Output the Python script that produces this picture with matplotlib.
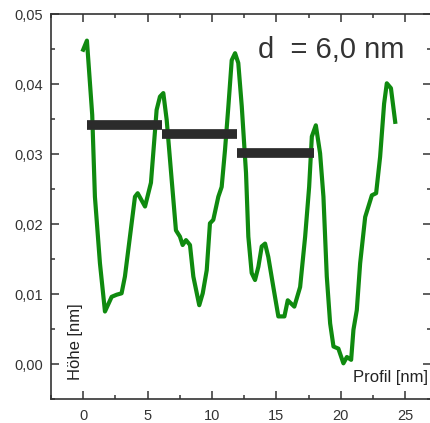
import matplotlib
matplotlib.use("Agg")
import matplotlib.pyplot as plt
from matplotlib.ticker import MultipleLocator, FuncFormatter

plt.rcParams['font.family'] = ['Liberation Sans', 'DejaVu Sans']

# Hoehenprofil (nm)
profil_x = [0.0, 0.29, 0.70, 0.91, 1.30, 1.69, 2.21, 2.60, 2.98, 3.24, 3.63, 4.02,
            4.23, 4.80, 5.26, 5.52, 5.70, 5.96, 6.22, 6.48, 6.87, 7.20, 7.51, 7.72,
            7.98, 8.29, 8.55, 9.01, 9.28, 9.59, 9.84, 10.10, 10.49, 10.75, 11.01,
            11.27, 11.53, 11.79, 12.04, 12.31, 12.64, 12.82, 13.08, 13.34, 13.60,
            13.86, 14.12, 14.37, 14.76, 15.15, 15.62, 15.88, 16.39, 16.84, 17.23,
            17.54, 17.75, 18.06, 18.39, 18.65, 18.91, 19.17, 19.43, 19.81, 20.20,
            20.47, 20.80, 20.98, 21.24, 21.50, 21.89, 22.41, 22.74, 23.05, 23.36,
            23.57, 23.89, 24.22]
hoehe = [0.0449, 0.0462, 0.0356, 0.0239, 0.0144, 0.0075, 0.0096, 0.0099, 0.0101,
         0.0125, 0.0182, 0.0239, 0.0244, 0.0225, 0.0259, 0.0320, 0.0363, 0.0382,
         0.0387, 0.0349, 0.0263, 0.0191, 0.0182, 0.0170, 0.0177, 0.0170, 0.0125,
         0.0084, 0.0101, 0.0134, 0.0201, 0.0206, 0.0239, 0.0253, 0.0306, 0.0368,
         0.0434, 0.0444, 0.0430, 0.0368, 0.0273, 0.0182, 0.0130, 0.0120, 0.0139,
         0.0168, 0.0172, 0.0153, 0.0110, 0.0068, 0.0068, 0.0091, 0.0082, 0.0110,
         0.0182, 0.0253, 0.0325, 0.0341, 0.0301, 0.0239, 0.0125, 0.0058, 0.0025,
         0.0022, 0.0001, 0.0010, 0.0006, 0.0049, 0.0077, 0.0144, 0.0210, 0.0241,
         0.0244, 0.0296, 0.0372, 0.0401, 0.0394, 0.0346]

# Periodenbalken
balken_start = [0.26, 6.14, 11.94]
balken_ende = [6.14, 11.94, 17.95]
balken_hoehe = [0.0342, 0.0328, 0.0302]

fig = plt.figure(figsize=(4.31, 4.23), dpi=100)
ax = fig.add_axes([0.1183, 0.0567, 0.8817, 0.9102])

ax.plot(profil_x, hoehe, color='#0f8a0f', lw=3, solid_joinstyle='round', zorder=2)
for x0, x1, y in zip(balken_start, balken_ende, balken_hoehe):
    ax.plot([x0, x1], [y, y], color='#2b2b2b', lw=7, solid_capstyle='butt', zorder=3)

ax.set_xlim(-2.5, 27)
ax.set_ylim(-0.005, 0.05)
ax.xaxis.set_major_locator(MultipleLocator(5))
ax.xaxis.set_minor_locator(MultipleLocator(2.5))
ax.yaxis.set_major_locator(MultipleLocator(0.01))
ax.yaxis.set_minor_locator(MultipleLocator(0.005))
ax.yaxis.set_major_formatter(FuncFormatter(lambda v, p: f"{v:.2f}".replace('.', ',')))

ax.tick_params(which='both', direction='in', top=True, right=True, colors='#333333',
               labelcolor='#333333', labelsize=10.5, width=1.1)
ax.tick_params(which='major', length=5.5)
ax.tick_params(which='minor', length=3)
ax.tick_params(axis='x', which='major', pad=7)
ax.tick_params(axis='y', which='major', pad=5.5)
for s in ax.spines.values():
    s.set_color('#333333')
    s.set_linewidth(1.2)

ax.text(0.065, 0.15, 'Höhe [nm]', rotation=90, transform=ax.transAxes,
        ha='center', va='center', fontsize=12, color='#222222')
ax.text(0.795, 0.056, 'Profil [nm]', transform=ax.transAxes,
        ha='left', va='center', fontsize=12, color='#222222')
ax.text(0.545, 0.906, 'd  = 6,0 nm', transform=ax.transAxes,
        ha='left', va='center', fontsize=21, color='#333333')

fig.savefig('out.png', dpi=100)
